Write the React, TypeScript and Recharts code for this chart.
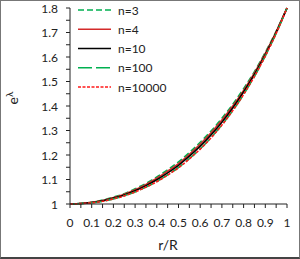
import React from 'react';
import { LineChart, Line, XAxis, YAxis } from 'recharts';

// r/R sample positions
const RADII = [0, 0.05, 0.1, 0.15, 0.2, 0.25, 0.3, 0.35, 0.4, 0.45, 0.5, 0.55, 0.6, 0.65, 0.7, 0.75, 0.8, 0.85, 0.9, 0.95, 1];

// e^lambda for each polytropic index
const N3 = [1.0, 1.002, 1.007, 1.016, 1.028, 1.042, 1.062, 1.084, 1.11, 1.14, 1.172, 1.21, 1.252, 1.298, 1.35, 1.407, 1.471, 1.54, 1.619, 1.705, 1.8];
const N4 = [1.0, 1.002, 1.007, 1.014, 1.026, 1.04, 1.058, 1.08, 1.105, 1.134, 1.165, 1.203, 1.245, 1.291, 1.343, 1.4, 1.464, 1.535, 1.615, 1.703, 1.8];
const N10 = [1.0, 1.002, 1.006, 1.013, 1.024, 1.037, 1.054, 1.075, 1.099, 1.127, 1.158, 1.195, 1.236, 1.282, 1.334, 1.392, 1.457, 1.529, 1.61, 1.7, 1.8];
const N100 = [1.0, 1.002, 1.005, 1.011, 1.021, 1.034, 1.049, 1.069, 1.092, 1.119, 1.149, 1.185, 1.225, 1.271, 1.323, 1.381, 1.447, 1.521, 1.604, 1.696, 1.8];
const N10000 = [1.0, 1.002, 1.005, 1.011, 1.021, 1.033, 1.049, 1.069, 1.091, 1.118, 1.148, 1.184, 1.224, 1.27, 1.322, 1.381, 1.447, 1.521, 1.604, 1.696, 1.8];

const X_TICKS = [0, 0.05, 0.1, 0.15, 0.2, 0.25, 0.3, 0.35, 0.4, 0.45, 0.5, 0.55, 0.6, 0.65, 0.7, 0.75, 0.8, 0.85, 0.9, 0.95, 1];
const Y_TICKS = [1, 1.05, 1.1, 1.15, 1.2, 1.25, 1.3, 1.35, 1.4, 1.45, 1.5, 1.55, 1.6, 1.65, 1.7, 1.75, 1.8];

const SERIES = [
  { key: 'n3', label: 'n=3', values: N3, color: '#00b050', dash: '6 3' },
  { key: 'n4', label: 'n=4', values: N4, color: '#d42a2a', dash: undefined },
  { key: 'n10', label: 'n=10', values: N10, color: '#000000', dash: undefined },
  { key: 'n100', label: 'n=100', values: N100, color: '#00b050', dash: '14 4' },
  { key: 'n10000', label: 'n=10000', values: N10000, color: '#ff1a1a', dash: '3 1.5' },
];

const data = RADII.map((r, i) => {
  const row: Record<string, number> = { r };
  SERIES.forEach((s) => { row[s.key] = s.values[i]; });
  return row;
});

const FONT = 'Lato, "Open Sans", sans-serif';
const isMajor = (v: number) => Math.round(v * 100) % 10 === 0;
const fmt = (v: number) => (v === 1 || v === 0 ? String(v) : v.toFixed(1));

const XTick = (props: any) => {
  const { x, y, payload } = props;
  return (
    <g>
      <line x1={x} x2={x} y1={y} y2={y + 4} stroke="#222" strokeWidth={1} />
      {isMajor(payload.value) && (
        <text x={x} y={y + 23} textAnchor="middle" fontSize={12} fontFamily={FONT} fill="#222">
          {fmt(payload.value)}
        </text>
      )}
    </g>
  );
};

const YTick = (props: any) => {
  const { x, y, payload } = props;
  return (
    <g>
      <line x1={x - 4} x2={x} y1={y} y2={y} stroke="#222" strokeWidth={1} />
      {isMajor(payload.value) && (
        <text x={x - 12} y={y + 4.5} textAnchor="end" fontSize={12} fontFamily={FONT} fill="#222">
          {fmt(payload.value)}
        </text>
      )}
    </g>
  );
};

export default function App() {
  return (
    <div style={{ position: 'fixed', left: 0, top: 0, width: 300, height: 259, background: '#fff' }}>
      <LineChart width={300} height={259} data={data} margin={{ top: 8, right: 13, bottom: 15, left: 8 }}>
        <XAxis
          dataKey="r"
          type="number"
          domain={[0, 1]}
          ticks={X_TICKS}
          interval={0}
          height={40}
          tickSize={0}
          tickMargin={0}
          tickLine={false}
          axisLine={{ stroke: '#222', strokeWidth: 1 }}
          tick={<XTick />}
        />
        <YAxis
          type="number"
          domain={[1, 1.8]}
          ticks={Y_TICKS}
          interval={0}
          width={62}
          tickSize={0}
          tickMargin={0}
          tickLine={false}
          axisLine={{ stroke: '#222', strokeWidth: 1 }}
          tick={<YTick />}
        />
        {SERIES.map((s) => (
          <Line
            key={s.key}
            dataKey={s.key}
            type="monotone"
            stroke={s.color}
            strokeWidth={1.6}
            strokeDasharray={s.dash}
            dot={false}
            isAnimationActive={false}
          />
        ))}
      </LineChart>
      <svg width={300} height={259} style={{ position: 'absolute', left: 0, top: 0, pointerEvents: 'none' }}>
        {SERIES.map((s, i) => {
          const cy = 10 + i * 19.25;
          return (
            <g key={s.key}>
              <line x1={78} x2={111} y1={cy} y2={cy} stroke={s.color} strokeWidth={1.6} strokeDasharray={s.dash} />
              <text x={118} y={cy + 4.5} fontSize={12} fontFamily={FONT} fill="#222">{s.label}</text>
            </g>
          );
        })}
        <text x={168} y={250} textAnchor="middle" fontSize={14} fontFamily={FONT} fill="#222">r/R</text>
        <text x={18} y={98} transform="rotate(-90 18 98)" textAnchor="middle" fontSize={14} fontFamily={FONT} fill="#222">
          e<tspan dy={-5} fontSize={10}>λ</tspan>
        </text>
      </svg>
      <div style={{ position: 'absolute', inset: 0, border: '1px solid #777', borderBottom: '2px solid #444', pointerEvents: 'none' }} />
    </div>
  );
}
